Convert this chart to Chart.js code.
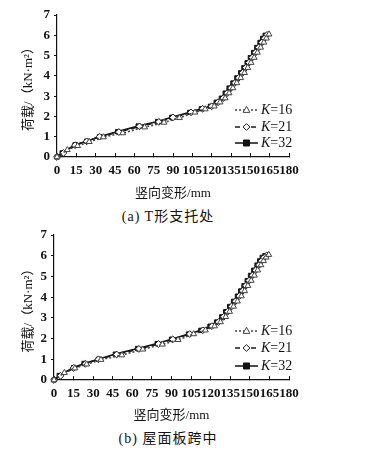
<!DOCTYPE html>
<html>
<head>
<meta charset="utf-8">
<script src="https://cdn.jsdelivr.net/npm/chart.js@4/dist/chart.umd.min.js"></script>
<style>
  html, body { margin: 0; padding: 0; background: #fff; }
  body { width: 374px; height: 451px; position: relative; overflow: hidden; }
  .box { position: absolute; left: 0; width: 374px; }
  .cap { position: absolute; left: 0; width: 336px; text-align: center;
         font: 14px "Liberation Serif", "Noto Sans CJK SC", serif; color: #111; letter-spacing: 1px; }
</style>
</head>
<body>
<div class="box" style="top:0;height:201px"><canvas id="chartA"></canvas></div>
<div class="cap" style="top:205px">(a) T形支托处</div>
<div class="box" style="top:220px;height:203px"><canvas id="chartB"></canvas></div>
<div class="cap" style="top:427px">(b) 屋面板跨中</div>
<script>
// series labels and axis ticks
const seriesNames = ['16', '21', '32'];
const xTicks = [0, 15, 30, 45, 60, 75, 90, 105, 120, 135, 150, 165, 180];
const yTicks = [0, 1, 2, 3, 4, 5, 6, 7];

// (a) T形支托处
const a16x = [0, 8, 16, 25, 36, 51, 68, 83, 95, 107, 115, 122, 126.5, 130.5, 133.5, 136.5, 139.5, 142.5, 145.5, 148, 150.5, 153, 155.5, 158, 160.5, 162.5, 164.5];
const a16y = [0, 0.35, 0.55, 0.75, 0.98, 1.18, 1.47, 1.7, 1.93, 2.2, 2.36, 2.5, 2.7, 2.9, 3.15, 3.4, 3.65, 3.9, 4.15, 4.4, 4.65, 4.9, 5.15, 5.4, 5.65, 5.85, 6.05];
const a21x = [0, 5, 14, 23, 33, 48, 64, 79, 90, 104, 113, 120, 125, 129, 132, 135, 138, 141, 144, 146.5, 149, 151.5, 154, 156.5, 159, 161, 163];
const a21y = [0, 0.2, 0.58, 0.77, 1.0, 1.23, 1.51, 1.73, 1.95, 2.2, 2.38, 2.5, 2.7, 2.9, 3.15, 3.4, 3.65, 3.9, 4.15, 4.4, 4.65, 4.9, 5.15, 5.4, 5.65, 5.85, 6.02];
const a32x = [0, 4, 14, 23, 33, 47, 63, 78, 89, 103, 112, 119, 123.5, 127.5, 130.5, 133.5, 136.5, 139.5, 142.5, 145, 147.5, 150, 152.5, 155, 157.5, 159.5, 161.5];
const a32y = [0, 0.2, 0.6, 0.78, 1.0, 1.25, 1.53, 1.75, 1.96, 2.2, 2.38, 2.5, 2.7, 2.9, 3.15, 3.4, 3.65, 3.9, 4.15, 4.4, 4.65, 4.9, 5.15, 5.4, 5.65, 5.85, 6.0];

// (b) 屋面板跨中
const b16x = [0, 8, 16, 25, 36, 52, 68, 83, 95, 107, 116, 123, 127.5, 131.5, 134.5, 137.5, 140.5, 143.5, 146, 148.5, 151, 153.5, 156, 158.5, 160.5, 162.5, 164.5];
const b16y = [0, 0.35, 0.57, 0.76, 0.98, 1.2, 1.48, 1.72, 1.94, 2.22, 2.4, 2.6, 2.8, 3.05, 3.3, 3.55, 3.8, 4.05, 4.3, 4.55, 4.8, 5.05, 5.3, 5.55, 5.75, 5.92, 6.05];
const b21x = [0, 5, 15, 24, 34, 48, 65, 80, 91, 104, 114, 121, 126, 130, 133, 136, 139, 142, 144.5, 147, 149.5, 152, 154.5, 157, 159, 161, 163];
const b21y = [0, 0.2, 0.58, 0.78, 1.0, 1.23, 1.5, 1.74, 1.96, 2.22, 2.4, 2.6, 2.8, 3.05, 3.3, 3.55, 3.8, 4.05, 4.3, 4.55, 4.8, 5.05, 5.3, 5.55, 5.75, 5.92, 6.02];
const b32x = [0, 4, 15, 23, 34, 47, 64, 79, 90, 103, 112.5, 119.5, 124.5, 128.5, 131.5, 134.5, 137.5, 140.5, 143, 145.5, 148, 150.5, 153, 155.5, 157.5, 159.5, 161.5];
const b32y = [0, 0.22, 0.6, 0.8, 1.0, 1.25, 1.52, 1.76, 1.97, 2.22, 2.4, 2.6, 2.8, 3.05, 3.3, 3.55, 3.8, 4.05, 4.3, 4.55, 4.8, 5.05, 5.3, 5.55, 5.75, 5.92, 6.0];

const FONT = '"Liberation Serif", "Noto Sans CJK SC", serif';

const styles = [
  { dash: [2, 2], color: '#444', marker: 'triangle', fill: '#fff', r: 3.4 },
  { dash: [5, 3], color: '#1a1a1a', marker: 'rectRot', fill: '#fff', r: 3.4 },
  { dash: [], color: '#111', marker: 'rect', fill: '#111', r: 3 }
];

function pts(xs, ys) {
  return xs.map((x, i) => ({ x: x, y: ys[i] }));
}

function drawMarker(ctx, st, x, y) {
  const r = st.r;
  ctx.save();
  ctx.setLineDash([]);
  ctx.lineWidth = 1;
  ctx.strokeStyle = st.color;
  ctx.fillStyle = st.fill;
  ctx.beginPath();
  if (st.marker === 'triangle') {
    ctx.moveTo(x, y - r * 1.1);
    ctx.lineTo(x + r, y + r * 0.7);
    ctx.lineTo(x - r, y + r * 0.7);
    ctx.closePath();
  } else if (st.marker === 'rectRot') {
    ctx.moveTo(x, y - r);
    ctx.lineTo(x + r, y);
    ctx.lineTo(x, y + r);
    ctx.lineTo(x - r, y);
    ctx.closePath();
  } else {
    ctx.rect(x - r, y - r, r * 2, r * 2);
  }
  ctx.fill();
  ctx.stroke();
  ctx.restore();
}

// legend drawn inside the plot area, lower right
const innerLegend = {
  id: 'innerLegend',
  afterDraw(chart, args, opts) {
    const ctx = chart.ctx;
    opts.rows.forEach((y, i) => {
      const st = styles[i];
      ctx.save();
      ctx.strokeStyle = st.color;
      ctx.lineWidth = 1.5;
      ctx.setLineDash(st.dash);
      ctx.beginPath();
      ctx.moveTo(235, y);
      ctx.lineTo(258, y);
      ctx.stroke();
      ctx.restore();
      drawMarker(ctx, st, 246.5, y);
      ctx.save();
      ctx.fillStyle = '#111';
      ctx.textBaseline = 'middle';
      ctx.font = 'italic 14px ' + FONT;
      ctx.fillText('K', 261, y);
      const w = ctx.measureText('K').width;
      ctx.font = '14px ' + FONT;
      ctx.fillText('=' + seriesNames[i], 261 + w, y);
      ctx.restore();
    });
  }
};

function makeChart(id, series, yW, xH, rows) {
  const datasets = series.map((s, i) => ({
    label: 'K=' + seriesNames[i],
    data: pts(s[0], s[1]),
    showLine: true,
    borderColor: styles[i].color,
    borderWidth: 1.6,
    borderDash: styles[i].dash,
    pointStyle: styles[i].marker,
    pointRadius: styles[i].r,
    pointBackgroundColor: styles[i].fill,
    pointBorderColor: styles[i].color,
    pointBorderWidth: 1,
    clip: false
  }));
  return new Chart(document.getElementById(id), {
    type: 'scatter',
    data: { datasets: datasets },
    plugins: [innerLegend],
    options: {
      responsive: true,
      maintainAspectRatio: false,
      animation: false,
      layout: { padding: { top: 15, right: 85, left: 0, bottom: 0 } },
      plugins: {
        legend: { display: false },
        tooltip: { enabled: false },
        innerLegend: { rows: rows }
      },
      scales: {
        x: {
          type: 'linear',
          min: xTicks[0],
          max: xTicks[xTicks.length - 1],
          afterBuildTicks: (sc) => { sc.ticks = xTicks.map(v => ({ value: v })); },
          afterFit: (sc) => { sc.height = xH; },
          border: { color: '#111', width: 1.2 },
          grid: { drawOnChartArea: false, tickLength: -4, color: '#111', tickWidth: 1 },
          ticks: {
            autoSkip: false, maxRotation: 0, minRotation: 0, padding: 10,
            color: '#111', font: { family: FONT, size: 13, weight: 'bold' }
          },
          title: {
            display: true, text: '竖向变形/mm', color: '#111',
            padding: { top: 0, bottom: 0 },
            font: { family: FONT, size: 13 }
          }
        },
        y: {
          type: 'linear',
          min: yTicks[0],
          max: yTicks[yTicks.length - 1],
          afterBuildTicks: (sc) => { sc.ticks = yTicks.map(v => ({ value: v })); },
          afterFit: (sc) => { sc.width = yW; },
          border: { color: '#111', width: 1.2 },
          grid: { drawOnChartArea: false, tickLength: 3, color: '#111' },
          ticks: {
            padding: 4, color: '#111',
            font: { family: FONT, size: 13, weight: 'bold' }
          },
          title: {
            display: true, text: '荷载/（kN·m²）', color: '#111',
            padding: { top: 21, bottom: 0 },
            font: { family: FONT, size: 13 }
          }
        }
      }
    }
  });
}

makeChart('chartA', [[a16x, a16y], [a21x, a21y], [a32x, a32y]], 57, 44, [110, 127, 143]);
makeChart('chartB', [[b16x, b16y], [b21x, b21y], [b32x, b32y]], 54, 43, [111, 128, 146]);
</script>
</body>
</html>
